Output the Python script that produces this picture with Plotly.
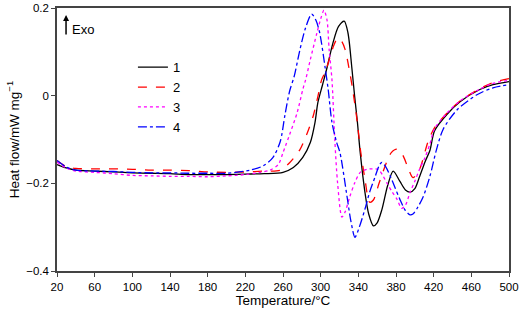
import plotly.graph_objects as go

# ---- data ----
T1 = [20, 30, 40, 60, 80, 100, 120, 140, 160, 180, 200, 220, 240, 260, 271, 281, 289, 294, 297, 302,
      307, 313, 319, 325, 329, 333, 336, 339, 342, 347, 351, 356, 360, 365, 371, 377, 384, 390, 395,
      400, 405, 411, 416, 421, 434, 448, 469, 483, 500]
Y1 = [-0.157, -0.165, -0.170, -0.172, -0.174, -0.176, -0.177, -0.178, -0.180, -0.180, -0.180, -0.179,
      -0.178, -0.175, -0.164, -0.141, -0.107, -0.061, -0.016, 0.025, 0.066, 0.12, 0.158, 0.17, 0.143,
      0.066, 0.0, -0.06, -0.13, -0.22, -0.27, -0.297, -0.29, -0.26, -0.206, -0.172, -0.195, -0.215,
      -0.22, -0.212, -0.185, -0.15, -0.125, -0.08, -0.043, -0.014, 0.014, 0.025, 0.032]

T2 = [20, 30, 40, 60, 80, 100, 120, 140, 160, 180, 200, 220, 240, 257, 267, 278, 286, 292, 297, 301,
      305, 310, 314, 318, 322, 326, 331, 334, 339, 342, 347, 352, 356, 362, 370, 375, 381, 387, 392,
      398, 405, 414, 421, 434, 448, 469, 483, 500]
Y2 = [-0.148, -0.162, -0.166, -0.167, -0.167, -0.168, -0.170, -0.170, -0.171, -0.174, -0.175, -0.174,
      -0.172, -0.170, -0.153, -0.123, -0.084, -0.047, -0.002, 0.036, 0.055, 0.089, 0.115, 0.131, 0.125,
      0.105, 0.052, 0.014, -0.062, -0.12, -0.19, -0.243, -0.238, -0.2, -0.152, -0.13, -0.122, -0.135,
      -0.16, -0.187, -0.168, -0.105, -0.073, -0.04, -0.012, 0.016, 0.03, 0.039]

T3 = [20, 30, 40, 60, 80, 100, 120, 140, 160, 180, 200, 220, 236, 246, 255, 260, 267, 275, 281, 284,
      289, 296, 300, 303.5, 306.7, 309, 312, 315, 318, 322.6, 326, 331, 336, 342, 349, 355, 361, 366,
      370, 376, 381, 386, 390, 395, 400, 405, 411, 416, 421, 434, 448, 469, 483, 500]
Y3 = [-0.152, -0.165, -0.172, -0.175, -0.178, -0.182, -0.183, -0.184, -0.184, -0.185, -0.183, -0.180,
      -0.175, -0.17, -0.157, -0.13, -0.089, -0.039, 0.014, 0.036, 0.082, 0.143, 0.175, 0.195, 0.173,
      0.105, 0.036, -0.1, -0.2, -0.277, -0.265, -0.23, -0.2, -0.175, -0.168, -0.167, -0.168, -0.182,
      -0.198, -0.22, -0.236, -0.257, -0.25, -0.22, -0.195, -0.168, -0.14, -0.11, -0.075, -0.04,
      -0.012, 0.015, 0.028, 0.035]

T4 = [20, 30, 40, 60, 80, 100, 120, 140, 160, 180, 200, 225, 239, 249, 257, 262, 267, 272, 278, 284,
      290.4, 295, 299, 304.6, 308, 312, 317, 320.5, 328, 332, 336.4, 341, 347, 352, 358, 362, 365, 369,
      374, 379, 384, 390, 395, 398, 403, 409, 416, 423, 430, 445, 466, 483, 500]
Y4 = [-0.148, -0.163, -0.170, -0.172, -0.173, -0.175, -0.176, -0.176, -0.177, -0.177, -0.177, -0.17,
      -0.16, -0.142, -0.105, -0.045, 0.01, 0.045, 0.105, 0.155, 0.186, 0.172, 0.143, 0.066, 0.014,
      -0.061, -0.107, -0.13, -0.23, -0.285, -0.323, -0.3, -0.259, -0.22, -0.184, -0.16, -0.152, -0.162,
      -0.184, -0.21, -0.236, -0.262, -0.272, -0.27, -0.255, -0.23, -0.184, -0.123, -0.077, -0.032,
      0.002, 0.018, 0.025]

NAMES = ["1", "2", "3", "4"]
X_TICKS = list(range(20, 501, 40))
Y_TICKS = [-0.4, -0.2, 0, 0.2]
Y_TICK_TEXT = ["\u22120.4", "\u22120.2", "0", "0.2"]

series = [(T1, Y1, "#000000", "solid"),
          (T2, Y2, "#ff0000", "dash"),
          (T3, Y3, "#ff00ff", "dot"),
          (T4, Y4, "#0000ff", "dashdot")]

fig = go.Figure()
for name, (t, y, c, d) in zip(NAMES, series):
    fig.add_trace(go.Scatter(x=t, y=y, mode="lines", name=name,
                             line=dict(color=c, dash=d, width=1.3, shape="spline", smoothing=0.8)))

FONT = "Liberation Sans, Arial, sans-serif"
fig.update_layout(
    width=520, height=313,
    margin=dict(l=57, r=11, t=8, b=42),
    paper_bgcolor="white", plot_bgcolor="white",
    font=dict(family=FONT, size=13, color="black"),
    showlegend=True,
    legend=dict(x=0.168, y=0.832, xanchor="left", yanchor="top",
                bgcolor="rgba(0,0,0,0)", font=dict(size=13), tracegroupgap=0),
)
fig.update_xaxes(range=[20, 500], tickmode="array", tickvals=X_TICKS,
                 ticks="outside", ticklen=4, tickcolor="#444", tickwidth=1,
                 showline=True, linecolor="#444", linewidth=1.5, mirror=True,
                 showgrid=False, zeroline=False, automargin=False,
                 tickfont=dict(size=11.5),
                 title=dict(text="Temperature/°C", font=dict(size=13.5), standoff=4))
fig.update_yaxes(range=[-0.4, 0.2], tickmode="array", tickvals=Y_TICKS, ticktext=Y_TICK_TEXT,
                 ticks="outside", ticklen=4, tickcolor="#444", tickwidth=1,
                 showline=True, linecolor="#444", linewidth=1.5, mirror=True,
                 showgrid=False, zeroline=False, automargin=False,
                 tickfont=dict(size=11.5),
                 title=dict(text="Heat flow/mW mg<sup>\u22121</sup>", font=dict(size=13.5), standoff=4))

fig.add_annotation(x=0.02, y=0.973, xref="paper", yref="paper", text="", showarrow=True,
                   ax=0, ay=21, arrowhead=2, arrowsize=0.8, arrowwidth=1.5, arrowcolor="black")
fig.add_annotation(x=0.028, y=0.92, xref="paper", yref="paper", text="Exo", showarrow=False,
                   xanchor="left", yanchor="middle", font=dict(size=13))

fig.write_html("out.html", config={"displayModeBar": False},
               post_script="document.body.style.margin='0px';")
